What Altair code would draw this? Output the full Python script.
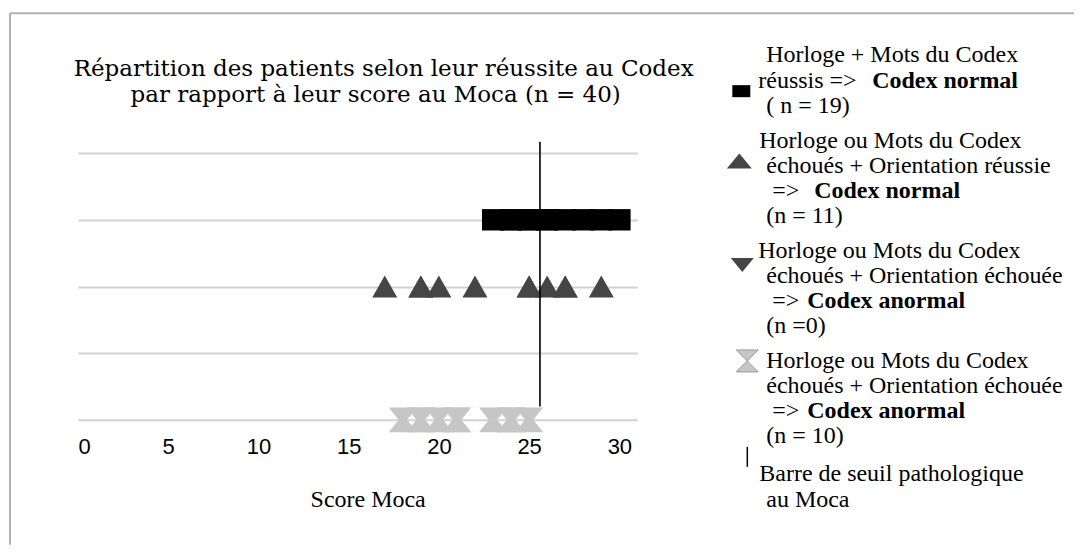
import altair as alt
import pandas as pd

# ---------------- data ----------------
square_scores = [23, 23, 24, 24, 24, 25, 25, 25, 26, 26, 26, 27, 27, 28, 28, 29, 29, 30, 30]   # n = 19
triangle_scores = [17, 19, 19, 20, 22, 25, 25, 26, 27, 27, 29]                              # n = 11
hourglass_scores = [18, 19, 19, 20, 21, 21, 23, 24, 24, 25]                                  # n = 10
threshold_score = 25.6
row_square, row_triangle, row_down, row_hourglass = 4, 3, 2, 1
x_ticks = [0, 5, 10, 15, 20, 25, 30]
row_lines = [1, 2, 3, 4, 5]

title_lines = ["Répartition des patients selon leur réussite au Codex",
               "par rapport à leur score au Moca  (n = 40)"]
title_x = [384, 376]
title_y = [76, 102]

legend_normal = [
    "Horloge + Mots du Codex", "réussis =>", "( n = 19)",
    "Horloge ou Mots du Codex", "échoués + Orientation réussie", "=>", "(n = 11)",
    "Horloge ou Mots du Codex", "échoués + Orientation échouée", "=>", "(n =0)",
    "Horloge ou Mots du Codex", "échoués + Orientation échouée", "=>", "(n = 10)",
    "Barre de seuil pathologique", "au Moca",
]
legend_normal_x = [767, 759, 767, 760, 767, 773, 767, 759, 767, 773, 767, 767, 767, 773, 767, 760, 767]
legend_normal_y = [57, 83, 108, 143, 168, 193, 218, 253, 278, 303, 328, 363, 388, 413, 438, 476, 502]
legend_bold = ["Codex normal", "Codex normal", "Codex anormal", "Codex anormal"]
legend_bold_x = [873, 815, 808, 808]
legend_bold_y = [83, 193, 303, 413]

# ---------------- styling ----------------
SERIF = "Liberation Serif"
SANS = "Liberation Sans"
HOURGLASS = "M-1,-0.89L1,-0.89L0.3,0L1,0.89L-1,0.89L-0.3,0Z"

xs = alt.Scale(domain=[0, 31], nice=False, zero=False)
ys = alt.Scale(domain=[1, 5], nice=False, zero=False)
xaxis = alt.Axis(values=x_ticks, grid=False, ticks=False, tickSize=0, domain=False,
                 labelFont=SANS, labelFontSize=22, labelColor="black", labelPadding=17,
                 title="Score Moca", titleFont=SERIF, titleFontSize=24, titleFontWeight="normal",
                 titleColor="black", titleX=290, titleY=80, titleBaseline="middle")
yaxis = alt.Axis(values=row_lines, grid=True, gridColor="#d2d2d2", gridWidth=2,
                 labels=False, ticks=False, domain=False, title=None)

sq_df = pd.DataFrame({"score": square_scores, "row": row_square})
tri_df = pd.DataFrame({"score": triangle_scores, "row": row_triangle})
hg_df = pd.DataFrame({"score": hourglass_scores, "row": row_hourglass})
thr_df = pd.DataFrame({"score": [threshold_score], "y1": [1.2], "y2": [5.17]})

enc = dict(x=alt.X("score:Q", scale=xs, axis=xaxis), y=alt.Y("row:Q", scale=ys, axis=yaxis))

squares = alt.Chart(sq_df).mark_point(
    shape="M-1.05,-1L1.05,-1L1.05,1L-1.05,1Z", filled=True, color="black", opacity=1, size=441
).encode(**enc)
triangles = alt.Chart(tri_df).mark_point(
    shape="M0,-0.88L1,0.88L-1,0.88Z", filled=True, color="#454545", opacity=1, size=625
).encode(**enc)
hourglasses = alt.Chart(hg_df).mark_point(
    shape=HOURGLASS, filled=True, color="#c6c6c6", opacity=1, size=784
).encode(**enc)
threshold = alt.Chart(thr_df).mark_rule(color="black", strokeWidth=1.6).encode(
    x=alt.X("score:Q", scale=xs, axis=xaxis),
    y=alt.Y("y1:Q", scale=ys, axis=yaxis),
    y2="y2:Q",
)
main = alt.layer(squares, triangles, hourglasses, threshold)

# ---------------- annotation layer (title, legend, frame) ----------------
axs = alt.Scale(domain=[78, 638], nice=False, zero=False)
ays = alt.Scale(domain=[153, 420], reverse=True, nice=False, zero=False)
ax = alt.X("px:Q", scale=axs, axis=None)
ay = alt.Y("py:Q", scale=ays, axis=None)

title_df = pd.DataFrame({"t": title_lines, "px": title_x, "py": title_y})
title_layer = alt.Chart(title_df).mark_text(
    font="DejaVu Serif", fontSize=23, color="black", align="center", baseline="alphabetic"
).encode(x=ax, y=ay, text="t:N")

ln_df = pd.DataFrame({"t": legend_normal, "px": legend_normal_x, "py": legend_normal_y})
ln_layer = alt.Chart(ln_df).mark_text(
    font=SERIF, fontSize=24, color="black", align="left", baseline="middle", dy=-2
).encode(x=ax, y=ay, text="t:N")

lb_df = pd.DataFrame({"t": legend_bold, "px": legend_bold_x, "py": legend_bold_y})
lb_layer = alt.Chart(lb_df).mark_text(
    font=SERIF, fontSize=24, fontWeight="bold", color="black", align="left", baseline="middle", dy=-2
).encode(x=ax, y=ay, text="t:N")

sym_df = pd.DataFrame({
    "px": [742, 740, 743],
    "py": [91, 161, 265],
    "shape": ["M-1,-0.67L1,-0.67L1,0.67L-1,0.67Z", "M0,-0.6L1,0.6L-1,0.6Z",
              "M-1,-0.6L1,-0.6L0,0.6Z"],
    "size": [324, 625, 529],
    "fill": ["black", "#454545", "#454545"],
})
sym_layer = alt.Chart(sym_df).mark_point(filled=True, opacity=1).encode(
    x=ax, y=ay,
    shape=alt.Shape("shape:N", scale=None),
    size=alt.Size("size:Q", scale=None),
    color=alt.Color("fill:N", scale=None),
)
hg_icon_df = pd.DataFrame({"px": [748], "py": [361]})
hg_icon = alt.Chart(hg_icon_df).mark_point(
    shape="M-1,-1L1,-1L-1,1L1,1Z", filled=True, fill="#c6c6c6", stroke="#9a9a9a",
    strokeWidth=1, opacity=1, size=484
).encode(x=ax, y=ay)

bar_df = pd.DataFrame({"px": [748], "py": [447], "py2": [467]})
bar_layer = alt.Chart(bar_df).mark_rule(color="black", strokeWidth=1.5).encode(
    x=ax, y=ay, y2="py2:Q")

frame_df = pd.DataFrame({"px": [10, 10], "py": [13, 13], "px2": [1075, 10], "py2": [13, 545]})
frame_layer = alt.Chart(frame_df).mark_rule(color="#b0b0b0", strokeWidth=2).encode(
    x=ax, y=ay, x2="px2:Q", y2="py2:Q")

annot = alt.layer(frame_layer, title_layer, ln_layer, lb_layer, sym_layer, hg_icon, bar_layer)

chart = alt.layer(main, annot).resolve_scale(x="independent", y="independent").properties(
    width=560, height=267,
    padding={"left": 1, "top": 4, "right": 0, "bottom": 0},
    background="white",
).configure_view(stroke=None)

chart.save("out.html", embed_options={"renderer": "svg", "actions": False})
